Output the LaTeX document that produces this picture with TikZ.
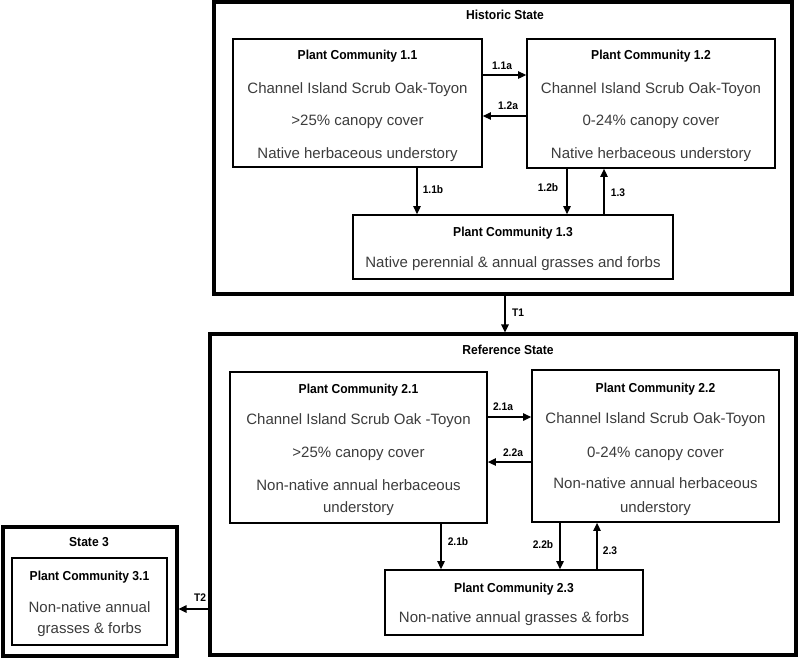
\documentclass[tikz,border=0pt]{standalone}
\usepackage{fontspec}
\setmainfont{Liberation Sans}
\newfontfamily\tfont{Liberation Sans}[FakeStretch=0.93]
\usetikzlibrary{arrows.meta}
\definecolor{txtgray}{RGB}{60,60,60}
\tikzset{
  statebox/.style={draw=black, line width=3.2pt, inner sep=0pt, fill=none},
  pcbox/.style={draw=black, line width=1.8pt, inner sep=0pt},
  body/.style={font=\fontsize{15}{18}\selectfont, text=txtgray, anchor=base, inner sep=0pt},
  ttl/.style={font=\tfont\bfseries\fontsize{13}{16}\selectfont, anchor=base, inner sep=0pt},
  lbl/.style={font=\tfont\bfseries\fontsize{11}{13}\selectfont, inner sep=0pt},
  arr/.style={draw=black, line width=1.3pt, -{Triangle[length=8pt,width=7.5pt]}}
}
\begin{document}
\begin{tikzpicture}[x=1pt,y=-1pt]
\useasboundingbox[fill=white] (0,0) rectangle (800,659);

% ---------- Historic state ----------
\node[statebox, minimum width=578, minimum height=292] (hist) at (503,148) {};
\node[ttl] (histT) at (505,19.5) {Historic State};

\node[pcbox, minimum width=249, minimum height=128] (pc11) at (357.5,103) {};
\node[ttl]  (pc11a) at (357.5,59) {Plant Community 1.1};
\node[body] (pc11b) at (357.5,93) {Channel Island Scrub Oak-Toyon};
\node[body] (pc11c) at (357.5,125) {>25\% canopy cover};
\node[body] (pc11d) at (357.5,158) {Native herbaceous understory};

\node[pcbox, minimum width=248, minimum height=129] (pc12) at (651,103.5) {};
\node[ttl]  (pc12a) at (651,59) {Plant Community 1.2};
\node[body] (pc12b) at (651,93) {Channel Island Scrub Oak-Toyon};
\node[body] (pc12c) at (651,125) {0-24\% canopy cover};
\node[body] (pc12d) at (651,158) {Native herbaceous understory};

\node[pcbox, minimum width=320, minimum height=64] (pc13) at (513,247) {};
\node[ttl]  (pc13a) at (513,236) {Plant Community 1.3};
\node[body] (pc13b) at (513,267) {Native perennial \& annual grasses and forbs};

\draw[arr] (pc11.east |- 0,75) -- (pc12.west |- 0,75);
\node[lbl] (l11a) at (502,66) {1.1a};
\draw[arr] (pc12.west |- 0,116) -- (pc11.east |- 0,116);
\node[lbl] (l12a) at (508,106) {1.2a};
\draw[arr] (pc11.south -| 417,0) -- (pc13.north -| 417,0);
\node[lbl] (l11b) at (433,190) {1.1b};
\draw[arr] (pc12.south -| 567,0) -- (pc13.north -| 567,0);
\node[lbl] (l12b) at (548,188) {1.2b};
\draw[arr] (pc13.north -| 604,0) -- (pc12.south -| 604,0);
\node[lbl] (l13) at (618,193) {1.3};

% ---------- Reference state ----------
\node[statebox, minimum width=586, minimum height=321] (ref) at (503,494.5) {};
\node[ttl] (refT) at (508,354.5) {Reference State};

\draw[arr] (hist.south -| 505,0) -- (ref.north -| 505,0);
\node[lbl] (lT1) at (518,313) {T1};

\node[pcbox, minimum width=257, minimum height=151] (pc21) at (358.5,447.5) {};
\node[ttl]  (pc21a) at (358.5,393) {Plant Community 2.1};
\node[body] (pc21b) at (358.5,424) {Channel Island Scrub Oak -Toyon};
\node[body] (pc21c) at (358.5,457) {>25\% canopy cover};
\node[body] (pc21d) at (358.5,490) {Non-native annual herbaceous};
\node[body] (pc21e) at (358.5,512) {understory};

\node[pcbox, minimum width=247, minimum height=152] (pc22) at (655.5,446) {};
\node[ttl]  (pc22a) at (655.5,392) {Plant Community 2.2};
\node[body] (pc22b) at (655.5,423) {Channel Island Scrub Oak-Toyon};
\node[body] (pc22c) at (655.5,457) {0-24\% canopy cover};
\node[body] (pc22d) at (655.5,488) {Non-native annual herbaceous};
\node[body] (pc22e) at (655.5,512) {understory};

\node[pcbox, minimum width=258, minimum height=65] (pc23) at (514,602.5) {};
\node[ttl]  (pc23a) at (514,592) {Plant Community 2.3};
\node[body] (pc23b) at (514,622) {Non-native annual grasses \& forbs};

\draw[arr] (pc21.east |- 0,417) -- (pc22.west |- 0,417);
\node[lbl] (l21a) at (503,407) {2.1a};
\draw[arr] (pc22.west |- 0,462) -- (pc21.east |- 0,462);
\node[lbl] (l22a) at (513,453) {2.2a};
\draw[arr] (pc21.south -| 441,0) -- (pc23.north -| 441,0);
\node[lbl] (l21b) at (458,542) {2.1b};
\draw[arr] (pc22.south -| 560,0) -- (pc23.north -| 560,0);
\node[lbl] (l22b) at (543,545) {2.2b};
\draw[arr] (pc23.north -| 597,0) -- (pc22.south -| 597,0);
\node[lbl] (l23) at (610,551) {2.3};

% ---------- State 3 ----------
\node[statebox, minimum width=174, minimum height=129] (st3) at (90,591.5) {};
\node[ttl] (st3T) at (89,546.5) {State 3};
\node[pcbox, minimum width=155, minimum height=87] (pc31) at (89.5,601.5) {};
\node[ttl]  (pc31a) at (89.5,580) {Plant Community 3.1};
\node[body] (pc31b) at (89.5,612) {Non-native annual};
\node[body] (pc31c) at (89.5,633) {grasses \& forbs};

\draw[arr] (ref.west |- 0,609) -- (st3.east |- 0,609);
\node[lbl] (lT2) at (200,598) {T2};
\end{tikzpicture}
\end{document}
